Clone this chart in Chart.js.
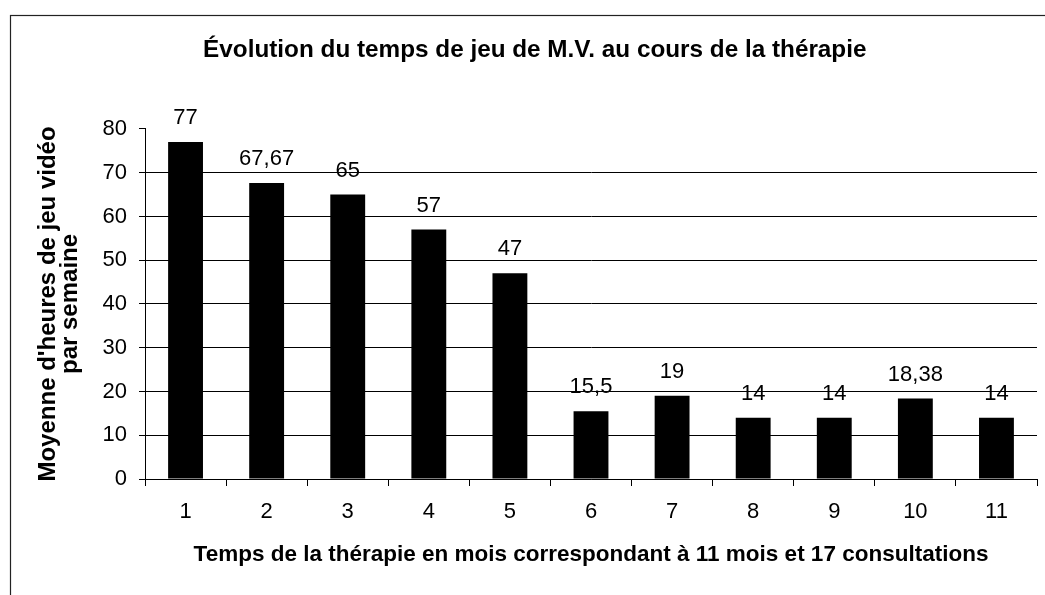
<!DOCTYPE html>
<html>
<head>
<meta charset="utf-8">
<script src="https://cdn.jsdelivr.net/npm/chart.js@4/dist/chart.umd.min.js"></script>
<style>
  html, body { margin: 0; padding: 0; background: #fff; }
  #wrap { width: 1045px; height: 595px; }
</style>
</head>
<body>
<div id="wrap"><canvas id="tempsChart" width="1045" height="595"></canvas></div>
<script>
const mois = ['1', '2', '3', '4', '5', '6', '7', '8', '9', '10', '11'];
const heures = [77, 67.67, 65, 57, 47, 15.5, 19, 14, 14, 18.38, 14];
const yTicks = [0, 10, 20, 30, 40, 50, 60, 70, 80];

const FONT = "'Liberation Sans', Arial, sans-serif";

// cadre du graphique (bord gauche + haut visibles)
const cadre = {
    id: 'cadre',
    beforeDraw(chart) {
        const ctx = chart.ctx;
        ctx.save();
        ctx.strokeStyle = '#222';
        ctx.lineWidth = 1.2;
        ctx.strokeRect(10.5, 15.5, 1200, 800);
        ctx.restore();
    }
};

// valeurs au-dessus des barres
const etiquettes = {
    id: 'etiquettes',
    afterDatasetsDraw(chart) {
        const ctx = chart.ctx;
        const meta = chart.getDatasetMeta(0);
        ctx.save();
        ctx.font = '22px ' + FONT;
        ctx.fillStyle = '#000';
        ctx.textAlign = 'center';
        ctx.textBaseline = 'alphabetic';
        meta.data.forEach((bar, i) => {
            const txt = String(heures[i]).replace('.', ',');
            ctx.fillText(txt, bar.x, bar.y - 18);
        });
        ctx.restore();
    }
};

new Chart(document.getElementById('tempsChart'), {
    type: 'bar',
    data: {
        labels: mois,
        datasets: [{
            data: heures,
            backgroundColor: '#000',
            borderColor: '#000',
            borderWidth: 0,
            barPercentage: 0.43,
            categoryPercentage: 1
        }]
    },
    options: {
        responsive: false,
        animation: false,
        layout: { padding: { left: 32.6, right: 8, top: 0, bottom: 23 } },
        plugins: {
            legend: { display: false },
            tooltip: { enabled: false },
            title: {
                display: true,
                text: 'Évolution du temps de jeu de M.V. au cours de la thérapie',
                color: '#000',
                font: { family: FONT, size: 24.3, weight: 'bold', lineHeight: 1.2 },
                padding: { top: 35.4, bottom: 64.4 }
            }
        },
        scales: {
            x: {
                grid: { offset: true, drawOnChartArea: false, color: '#000', tickLength: 7 },
                border: { color: '#000', width: 1 },
                ticks: { color: '#000', font: { family: FONT, size: 22 }, padding: 13, maxRotation: 0 },
                title: {
                    display: true,
                    text: 'Temps de la thérapie en mois correspondant à 11 mois et 17 consultations',
                    color: '#000',
                    font: { family: FONT, size: 22.5, weight: 'bold', lineHeight: 1.2 }
                },
                afterFit(scale) { scale.height = 93; }
            },
            y: {
                min: 0,
                max: 80,
                afterBuildTicks(scale) { scale.ticks = yTicks.map(v => ({ value: v })); },
                grid: {
                    color: ctx => (ctx.tick && ctx.tick.value === 80) ? 'rgba(0,0,0,0)' : '#000',
                    tickColor: '#000',
                    tickLength: 6,
                    lineWidth: 1
                },
                border: { color: '#000', width: 1 },
                ticks: { color: '#000', font: { family: FONT, size: 22 }, padding: 12 },
                title: {
                    display: true,
                    text: ["Moyenne d'heures de jeu vidéo", 'par semaine'],
                    color: '#000',
                    font: { family: FONT, size: 24, weight: 'bold', lineHeight: 0.95 }
                },
                afterFit(scale) { scale.width = 112.4; }
            }
        }
    },
    plugins: [cadre, etiquettes]
});
</script>
</body>
</html>
